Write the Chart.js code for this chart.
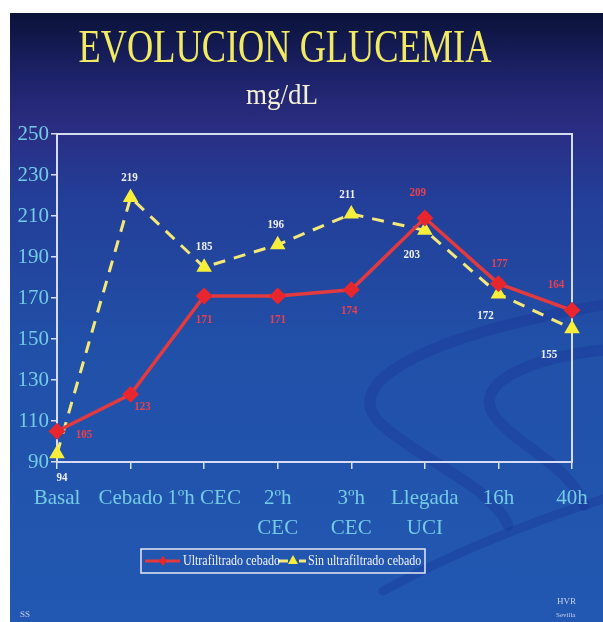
<!DOCTYPE html>
<html>
<head>
<meta charset="utf-8">
<script src="https://cdn.jsdelivr.net/npm/chart.js@4"></script>
<style>
  html, body { margin: 0; padding: 0; background: #fff; }
  #slide {
    position: absolute; left: 10px; top: 13px; width: 593px; height: 609px;
    background: linear-gradient(to bottom, #0a1238 0%, #1c2268 10%, #2a2c80 18%, #233e98 30%, #2150a8 55%, #2258b2 100%);
  }
  canvas { display: block; }
</style>
</head>
<body>
<div id="slide"><canvas id="chart" width="593" height="609"></canvas></div>
<script>
// datos
const categorias = ['Basal', 'Cebado', '1ºh CEC', ['2ºh', 'CEC'], ['3ºh', 'CEC'], ['Llegada', 'UCI'], '16h', '40h'];
const ultrafiltrado = [105, 123, 171, 171, 174, 209, 177, 164];
const sinUltrafiltrado = [94, 219, 185, 196, 211, 203, 172, 155];
const ticksY = [90, 110, 130, 150, 170, 190, 210, 230, 250];

// desplazamiento de las etiquetas de valor (px)
const offsetsRojo = [[27, 3], [12, 12], [0, 24], [0, 24], [-2, 21], [-7, -25], [1, -20], [-16, -26]];
const offsetsAmarillo = [[5, 24], [-1, -20], [0, -21], [-2, -20], [-4, -19], [-13, 24], [-13, 22], [-23, 26]];

const SERIF = '"Liberation Serif", "DejaVu Serif", serif';

// fondo con curvas decorativas, titulo y pie
const fondoPlugin = {
  id: 'fondo',
  beforeDraw(chart) {
    const ctx = chart.ctx;
    ctx.save();
    ctx.strokeStyle = 'rgba(22, 48, 145, 0.3)';
    ctx.lineCap = 'round';
    ctx.lineWidth = 11;
    ctx.beginPath();
    ctx.moveTo(593, 292);
    ctx.bezierCurveTo(430, 320, 330, 365, 368, 408);
    ctx.bezierCurveTo(410, 448, 478, 470, 498, 512);
    ctx.stroke();
    ctx.beginPath();
    ctx.moveTo(593, 337);
    ctx.bezierCurveTo(520, 345, 462, 370, 484, 402);
    ctx.bezierCurveTo(505, 432, 560, 452, 574, 492);
    ctx.stroke();
    ctx.lineWidth = 9;
    ctx.beginPath();
    ctx.moveTo(373, 578);
    ctx.quadraticCurveTo(470, 525, 593, 486);
    ctx.stroke();
    ctx.restore();

    ctx.save();
    ctx.textAlign = 'center';
    ctx.textBaseline = 'alphabetic';
    ctx.fillStyle = '#f2ea62';
    ctx.font = '46px ' + SERIF;
    ctx.translate(275, 49);
    ctx.scale(0.79, 1);
    ctx.fillText('EVOLUCION GLUCEMIA', 0, 0);
    ctx.restore();

    ctx.save();
    ctx.textAlign = 'center';
    ctx.fillStyle = '#f4f0d8';
    ctx.font = '30px ' + SERIF;
    ctx.translate(272, 91);
    ctx.scale(0.9, 1);
    ctx.fillText('mg/dL', 0, 0);
    ctx.restore();

    ctx.save();
    ctx.fillStyle = '#c8d0ea';
    ctx.font = '9px ' + SERIF;
    ctx.fillText('SS', 10, 604);
    ctx.fillText('HVR', 547, 591);
    ctx.font = '7px ' + SERIF;
    ctx.fillText('Sevilla', 546, 604);
    ctx.restore();
  },
  beforeDatasetsDraw(chart) {
    const a = chart.chartArea;
    const ctx = chart.ctx;
    ctx.save();
    ctx.strokeStyle = '#d6dcf2';
    ctx.lineWidth = 2;
    ctx.strokeRect(a.left, a.top, a.right - a.left, a.bottom - a.top);
    ctx.restore();
  }
};

// etiquetas de valores
const etiquetasPlugin = {
  id: 'etiquetas',
  afterDatasetsDraw(chart) {
    const ctx = chart.ctx;
    ctx.save();
    ctx.textAlign = 'center';
    ctx.textBaseline = 'middle';
    chart.data.datasets.forEach((ds, di) => {
      const meta = chart.getDatasetMeta(di);
      const offs = di === 0 ? offsetsRojo : offsetsAmarillo;
      ctx.fillStyle = di === 0 ? '#e8404e' : '#eeeef4';
      meta.data.forEach((pt, i) => {
        ctx.save();
        ctx.translate(pt.x + offs[i][0], pt.y + offs[i][1]);
        ctx.scale(0.85, 1);
        ctx.font = 'bold 13px ' + SERIF;
        ctx.fillText(String(ds.data[i]), 0, 0);
        ctx.restore();
      });
    });
    ctx.restore();
  }
};

// leyenda con marco
const leyendaPlugin = {
  id: 'leyenda',
  afterDraw(chart) {
    const ctx = chart.ctx;
    const ds = chart.data.datasets;
    ctx.save();
    ctx.strokeStyle = '#e6e8f4';
    ctx.lineWidth = 1.5;
    ctx.strokeRect(131, 536, 284, 24);
    const y = 548;
    // serie roja
    ctx.strokeStyle = ds[0].borderColor;
    ctx.lineWidth = 3;
    ctx.beginPath(); ctx.moveTo(135, y); ctx.lineTo(170, y); ctx.stroke();
    ctx.fillStyle = ds[0].pointBackgroundColor;
    ctx.beginPath();
    ctx.moveTo(153, y - 5); ctx.lineTo(157, y); ctx.lineTo(153, y + 5); ctx.lineTo(149, y);
    ctx.closePath(); ctx.fill();
    // serie amarilla
    ctx.strokeStyle = ds[1].borderColor;
    ctx.beginPath(); ctx.moveTo(268, y); ctx.lineTo(278, y); ctx.stroke();
    ctx.beginPath(); ctx.moveTo(289, y); ctx.lineTo(296, y); ctx.stroke();
    ctx.fillStyle = ds[1].pointBackgroundColor;
    ctx.beginPath();
    ctx.moveTo(283, y - 6); ctx.lineTo(288, y + 3); ctx.lineTo(278, y + 3);
    ctx.closePath(); ctx.fill();
    // textos
    ctx.fillStyle = '#f2f2f8';
    ctx.textBaseline = 'middle';
    ctx.font = '15px ' + SERIF;
    ctx.save(); ctx.translate(173, y); ctx.scale(0.8, 1); ctx.fillText(ds[0].label, 0, 0); ctx.restore();
    ctx.save(); ctx.translate(298, y); ctx.scale(0.8, 1); ctx.fillText(ds[1].label, 0, 0); ctx.restore();
    ctx.restore();
  }
};

new Chart(document.getElementById('chart'), {
  type: 'line',
  data: {
    labels: categorias,
    datasets: [
      {
        label: 'Ultrafiltrado cebado',
        data: ultrafiltrado,
        borderColor: '#e23a3e',
        backgroundColor: '#e23a3e',
        pointBackgroundColor: '#e8262e',
        pointBorderColor: '#e8262e',
        pointStyle: 'rectRot',
        pointRadius: 6,
        borderWidth: 3.5,
        tension: 0
      },
      {
        label: 'Sin ultrafiltrado cebado',
        data: sinUltrafiltrado,
        borderColor: '#f4e878',
        backgroundColor: '#f4e878',
        pointBackgroundColor: '#f6ee3a',
        pointBorderColor: '#f6ee3a',
        pointStyle: 'triangle',
        pointRadius: 6,
        borderWidth: 3,
        borderDash: [12, 9],
        tension: 0
      }
    ]
  },
  options: {
    responsive: false,
    animation: false,
    layout: { padding: { left: 0, right: 31, top: 121, bottom: 80 } },
    plugins: {
      legend: { display: false },
      title: { display: false },
      tooltip: { enabled: false }
    },
    scales: {
      x: {
        offset: false,
        afterFit: s => { s.height = 80; },
        border: { display: false },
        grid: { drawOnChartArea: false, drawTicks: true, tickLength: 7, color: '#d6dcf2', lineWidth: 1.5 },
        ticks: {
          autoSkip: false, maxRotation: 0, minRotation: 0,
          color: '#74cbe6', padding: 15,
          font: { family: SERIF, size: 21, lineHeight: 1.4 }
        }
      },
      y: {
        min: ticksY[0],
        max: ticksY[ticksY.length - 1],
        afterFit: s => { s.width = 47; },
        afterBuildTicks: s => { s.ticks = ticksY.map(v => ({ value: v })); },
        border: { display: false },
        grid: { drawOnChartArea: false, drawTicks: true, tickLength: 6, color: '#d6dcf2', lineWidth: 1.5 },
        ticks: {
          color: '#74cbe6', padding: 2,
          font: { family: SERIF, size: 21 }
        }
      }
    }
  },
  plugins: [fondoPlugin, etiquetasPlugin, leyendaPlugin]
});
</script>
</body>
</html>
